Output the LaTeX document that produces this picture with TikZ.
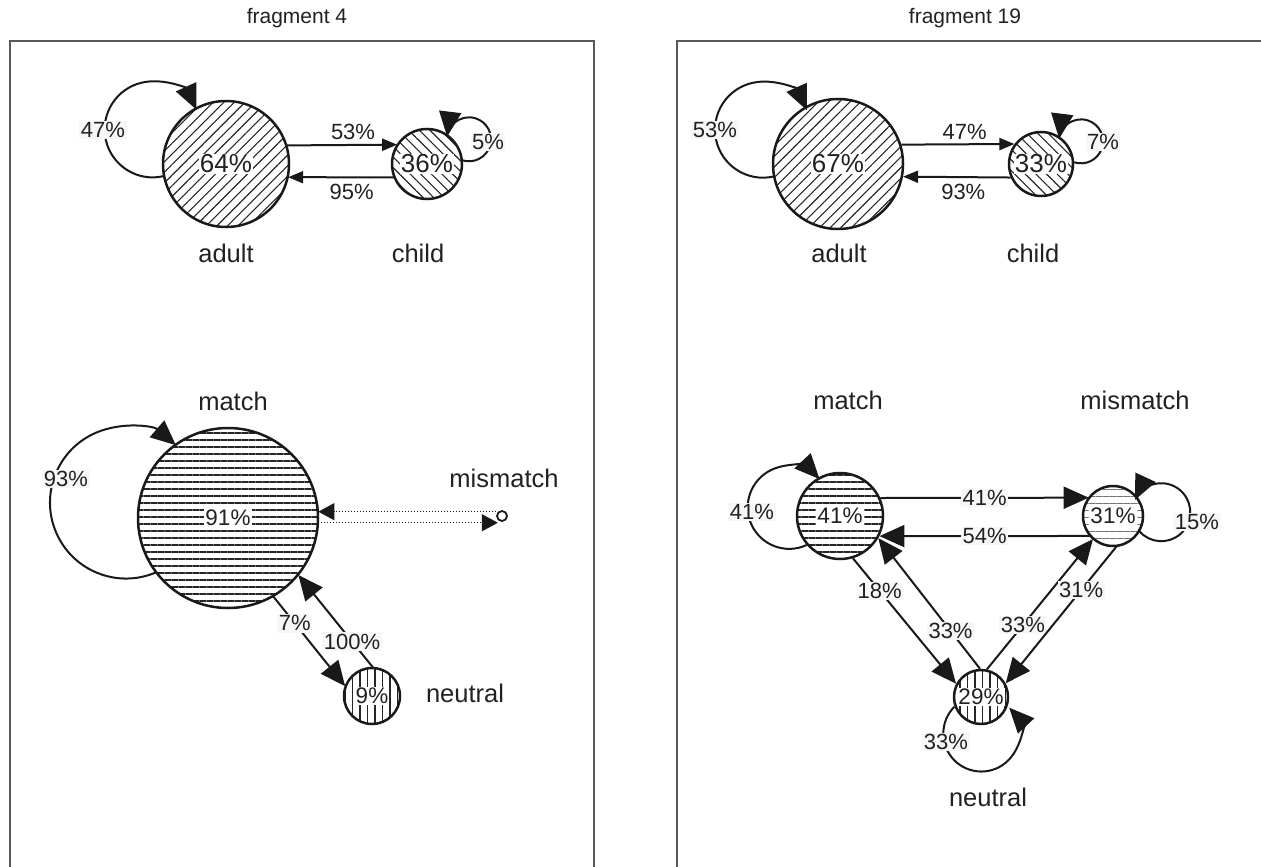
\documentclass[tikz,border=0pt]{standalone}
\usepackage{fontspec}
\setmainfont{Liberation Sans}
\usetikzlibrary{arrows.meta,patterns.meta}
\begin{document}
\begin{tikzpicture}[x=1pt,y=1pt,
  circ/.style={circle, draw=black!90, line width=2.5pt, inner sep=0pt},
  pctbig/.style={fill=white, inner sep=1pt, text=black!87, font=\fontsize{26}{29}\selectfont},
  pctsmall/.style={fill=white, inner sep=1pt, text=black!87, font=\fontsize{22.5}{26}\selectfont},
  lname/.style={text=black!87, font=\fontsize{25.5}{29}\selectfont},
  ttl/.style={text=black!87, font=\fontsize{21}{24}\selectfont},
  lbl/.style={fill=black!3, inner sep=1.5pt, text=black!87, font=\fontsize{22}{25}\selectfont},
  elbl/.style={inner sep=1pt, text=black!87, font=\fontsize{22}{25}\selectfont},
  bigedge/.style={draw=black!90, line width=2pt, -{Triangle[length=25pt,width=22pt]}},
  smalledge/.style={draw=black!90, line width=2pt, -{Triangle[length=15pt,width=12pt]}},
  dotedge/.style={draw=black!90, line width=1pt, dotted, -{Triangle[length=16pt,width=17pt]}},
  hatchNE/.style={pattern={Lines[angle=45,distance=7.5pt,line width=1.1pt]}, pattern color=black!85},
  hatchNW/.style={pattern={Lines[angle=-45,distance=7.5pt,line width=1.1pt]}, pattern color=black!85},
  hatchH/.style={pattern={Lines[angle=0,distance=7pt,line width=1.1pt]}, pattern color=black!85},
  hatchHlight/.style={pattern={Lines[angle=0,distance=7pt,line width=0.9pt]}, pattern color=black!55},
  hatchV/.style={pattern={Lines[angle=90,distance=7.5pt,line width=1.1pt]}, pattern color=black!85},
  frame/.style={draw=black!65, line width=1.2pt}
]
\useasboundingbox (0,0) rectangle (1261,-867);
\clip (0,0) rectangle (1261,-867);

% titles and frames
\node[ttl] (t1) at (297,-18) {fragment 4};
\node[ttl] (t2) at (965,-18) {fragment 19};
\draw[frame] (10,-880) -- (10,-41) -- (594,-41) -- (594,-880);
\draw[frame] (677,-880) -- (677,-41) -- (1275,-41) -- (1275,-880);

% ---------------- fragment 4, top ----------------
\node[circ, hatchNE, minimum size=126pt] (adultL) at (226,-164) {};
\node[pctbig] at (adultL) {64\%};
\node[circ, hatchNW, minimum size=70pt] (childL) at (427,-164) {};
\node[pctbig] at (childL) {36\%};
\node[lname] (adultLn) at (226,-253) {adult};
\node[lname] (childLn) at (418,-253) {child};

\draw[smalledge] (adultL.17.5) -- node[elbl, pos=0.6, above=3pt] {53\%} (childL.147);
\draw[smalledge] (childL.202) -- node[elbl, pos=0.4, below=5pt] {95\%} (adultL.-12);

\draw[bigedge] (adultL.191.5) arc[start angle=-76.8, end angle=-335.6, radius=48];
\node[lbl] at (103,-130) {47\%};
\draw[bigedge] (childL.6.3) arc[start angle=252.5, end angle=533, radius=22];
\node[lbl] at (488,-142) {5\%};

% ---------------- fragment 4, bottom ----------------
\node[circ, hatchH, minimum size=180pt] (matchL) at (228,-518) {};
\node[pctsmall] at (matchL) {91\%};
\node[circle, draw=black!90, line width=1.8pt, inner sep=0pt, minimum size=10pt] (mmL) at (502,-516) {};
\node[circ, hatchV, minimum size=56pt] (neutralL) at (372,-696) {};
\node[pctsmall] at (neutralL) {9\%};
\node[lname] (matchLn) at (233,-401) {match};
\node[lname] (mmLn) at (504,-478) {mismatch};
\node[lname] (neutralLn) at (465,-693) {neutral};

\draw[bigedge] (matchL.217) arc[start angle=-67, end angle=-311, radius=76];
\node[lbl] at (66,-479) {93\%};
\draw[dotedge] (mmL.west |- matchL.4.5) -- (matchL.4.5);
\draw[dotedge] (matchL.-3.2) -- (matchL.-3.2 -| mmL.south west);
\draw[bigedge] (matchL.-60) -- node[lbl, pos=0.3] {7\%} (neutralL.160);
\draw[bigedge] (neutralL.88) -- node[lbl, pos=0.28] {100\%} (matchL.-39);

% ---------------- fragment 19, top ----------------
\node[circ, hatchNE, minimum size=130pt] (adultR) at (838,-164) {};
\node[pctbig] at (adultR) {67\%};
\node[circ, hatchNW, minimum size=64pt] (childR) at (1041,-164) {};
\node[pctbig] at (childR) {33\%};
\node[lname] (adultRn) at (839,-253) {adult};
\node[lname] (childRn) at (1033,-253) {child};

\draw[smalledge] (adultR.17) -- node[elbl, pos=0.56, above=3pt] {47\%} (childR.143.6);
\draw[smalledge] (childR.204) -- node[elbl, pos=0.44, below=5pt] {93\%} (adultR.-11.5);

\draw[bigedge] (adultR.191.3) arc[start angle=-78, end angle=-336, radius=48];
\node[lbl] at (715,-130) {53\%};
\draw[bigedge] (childR.3.5) arc[start angle=252, end angle=533, radius=22];
\node[lbl] at (1103,-142) {7\%};

% ---------------- fragment 19, bottom ----------------
\node[circ, hatchH, minimum size=86pt] (matchR) at (840,-516) {};
\node[pctsmall] at (matchR) {41\%};
\node[circ, hatchHlight, minimum size=60pt] (mmR) at (1113,-516) {};
\node[pctsmall] at (mmR) {31\%};
\node[circ, hatchV, minimum size=54pt] (neutralR) at (981,-697) {};
\node[pctsmall] at (neutralR) {29\%};
\node[lname] (matchRn) at (848,-400) {match};
\node[lname] (mmRn) at (1135,-400) {mismatch};
\node[lname] (neutralRn) at (988,-797) {neutral};

\draw[bigedge] (matchR.221.3) arc[start angle=-65.2, end angle=-317, radius=41.5];
\node[lbl] at (752,-512) {41\%};
\draw[bigedge] (mmR.-30) arc[start angle=221, end angle=515, radius=29];
\node[lbl] at (1197,-522) {15\%};
\draw[bigedge] (neutralR.200) arc[start angle=135, end angle=403, radius=38];
\node[lbl] at (946,-742) {33\%};

\draw[bigedge] (matchR.24.7) -- node[lbl, pos=0.5] {41\%} (mmR.143.1);
\draw[bigedge] (mmR.221.8) -- node[lbl, pos=0.5] {54\%} (matchR.-27.7);
\draw[bigedge] (matchR.-73) -- node[lbl, pos=0.26] {18\%} (neutralR.152);
\draw[bigedge] (neutralR.92) -- node[lbl, pos=0.29] {33\%} (matchR.-30);
\draw[bigedge] (neutralR.78) -- node[lbl, pos=0.34] {33\%} (mmR.229);
\draw[bigedge] (mmR.-83) -- node[lbl, pos=0.32] {31\%} (neutralR.29);
\end{tikzpicture}
\end{document}
